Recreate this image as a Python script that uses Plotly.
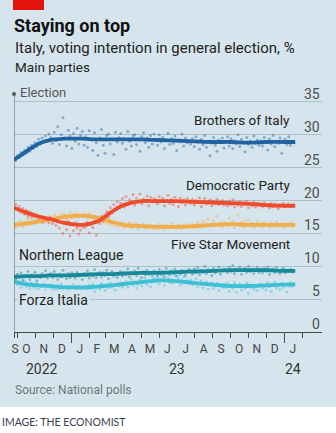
import plotly.graph_objects as go
import pandas as pd

# ---- data -------------------------------------------------------------
# individual polls: one reading every three days from just after the election
poll_dates = pd.date_range("2022-09-28", periods=160, freq="3D")

fdi_polls = [
    26.1, 26.8, 26.5, 27.3, 26.9, 27.6, 27.2, 28.1, 27.5, 28.4, 27.9, 28.8, 28.2, 29.3, 28.6, 29.5, 28.9, 29.8, 29.0, 30.1,
    29.6, 28.7, 30.4, 29.1, 31.2, 28.5, 30.0, 32.6, 29.4, 28.3, 30.7, 29.8, 27.9, 30.2, 29.0, 31.0, 28.6, 29.9, 30.5, 28.4,
    29.7, 28.1, 30.6, 29.2, 27.6, 30.3, 28.8, 26.9, 29.5, 30.8, 28.4, 27.2, 29.9, 30.1, 28.6, 29.3, 27.0, 30.4, 28.9, 29.6,
    30.2, 28.7, 29.4, 27.8, 30.5, 29.0, 28.3, 29.8, 30.0, 28.5, 29.2, 27.5, 29.7, 30.3, 28.8, 29.5, 28.1, 29.9, 28.6, 30.1,
    29.3, 28.4, 30.0, 28.9, 29.6, 27.9, 29.1, 30.2, 28.5, 29.4, 28.7, 29.8, 27.6, 29.2, 28.9, 30.1, 28.3, 29.5, 28.8, 29.0,
    28.6, 29.4, 28.2, 29.7, 28.9, 27.8, 29.3, 28.5, 29.9, 28.1, 29.0, 26.8, 28.7, 29.6, 28.4, 27.5, 29.2, 28.8, 29.5, 28.0,
    28.9, 29.7, 28.3, 29.4, 27.9, 29.1, 28.6, 30.0, 28.2, 29.3, 28.8, 27.4, 29.6, 28.5, 29.0, 28.1, 29.8, 28.7, 29.2, 28.4,
    29.1, 28.3, 29.6, 28.8, 27.7, 29.4, 28.6, 29.9, 28.2, 29.0, 28.7, 29.5, 27.2, 28.9, 29.3, 28.5, 29.7, 28.4, 29.0, 28.8,
]
pd_polls = [
    19.4, 18.6, 19.1, 18.2, 18.8, 17.9, 18.5, 17.6, 18.3, 17.4, 18.0, 16.9, 17.8, 17.1, 17.6, 16.7, 17.5, 16.9, 17.3, 16.6,
    17.4, 16.5, 17.0, 16.2, 16.9, 15.8, 16.7, 15.0, 16.5, 15.6, 16.8, 14.6, 16.3, 15.4, 16.6, 15.8, 14.9, 15.5, 16.2, 15.9,
    16.1, 16.7, 15.1, 16.4, 15.9, 16.8, 14.7, 17.1, 16.5, 17.6, 16.9, 17.8, 18.3, 17.5, 18.9, 18.1, 19.4, 18.6, 19.8, 18.9,
    19.6, 20.3, 19.0, 20.6, 19.4, 20.1, 19.7, 20.9, 19.3, 20.4, 19.8, 21.0, 19.5, 20.2, 19.9, 20.7, 19.2, 20.5, 19.8, 20.3,
    20.1, 19.5, 20.6, 19.8, 20.3, 19.2, 20.0, 20.8, 19.6, 20.2, 19.4, 20.5, 19.9, 19.1, 20.4, 19.7, 20.1, 19.3, 20.3, 19.8,
    19.6, 20.2, 19.3, 20.0, 19.7, 20.4, 19.1, 19.9, 20.3, 19.5, 19.8, 20.1, 19.2, 19.9, 19.6, 20.2, 19.4, 19.7, 20.0, 19.3,
    19.8, 19.2, 19.9, 19.4, 20.1, 19.0, 19.6, 19.3, 19.8, 19.1, 19.7, 19.4, 19.9, 18.9, 19.5, 19.2, 19.8, 19.0, 19.6, 19.3,
    19.5, 19.0, 19.7, 19.2, 19.4, 18.9, 19.6, 19.1, 19.5, 19.3, 18.8, 19.4, 19.2, 19.6, 19.0, 19.3, 19.5, 19.1, 19.4, 19.2,
]
m5s_polls = [
    15.9, 16.6, 16.2, 16.9, 16.0, 16.7, 16.4, 17.1, 16.3, 16.8, 16.5, 17.3, 16.6, 17.0, 16.8, 17.5, 16.7, 17.2, 17.0, 17.6,
    17.3, 16.9, 17.8, 17.2, 17.6, 16.8, 18.0, 17.4, 17.9, 17.1, 17.7, 18.2, 17.3, 17.9, 17.5, 18.1, 17.4, 17.8, 17.6, 18.0,
    17.8, 17.3, 18.0, 17.5, 17.2, 17.7, 17.0, 17.4, 16.8, 17.3, 16.7, 17.1, 16.5, 16.9, 16.4, 16.8, 16.2, 16.6, 16.0, 16.5,
    16.2, 16.7, 15.9, 16.4, 16.0, 16.6, 15.8, 16.3, 16.1, 16.5, 15.7, 16.2, 16.0, 16.4, 15.8, 16.3, 15.9, 16.2, 16.1, 15.7,
    16.1, 15.7, 16.4, 15.9, 16.2, 15.6, 16.3, 16.0, 15.8, 16.5, 15.9, 16.1, 15.7, 16.3, 16.0, 15.8, 16.2, 15.9, 16.4, 16.0,
    16.1, 16.4, 15.8, 16.2, 16.6, 15.9, 16.3, 16.8, 16.0, 16.5, 17.2, 16.1, 16.4, 16.9, 16.2, 17.6, 16.3, 16.7, 16.0, 16.5,
    16.6, 16.1, 17.3, 16.4, 16.8, 15.9, 16.5, 17.8, 16.2, 16.7, 16.0, 16.9, 16.3, 17.1, 16.1, 16.6, 15.9, 16.4, 16.8, 16.2,
    16.5, 16.0, 16.7, 16.2, 16.4, 15.9, 16.6, 16.1, 16.3, 16.8, 16.0, 16.4, 16.2, 15.8, 16.5, 16.1, 16.3, 16.6, 16.0, 16.4,
]
lega_polls = [
    8.1, 8.8, 8.3, 9.0, 7.9, 8.6, 8.4, 9.2, 8.0, 8.7, 8.5, 9.1, 7.8, 8.6, 8.3, 8.9, 8.5, 9.3, 8.2, 8.7,
    8.9, 8.3, 9.2, 8.5, 8.0, 8.8, 8.4, 9.4, 8.6, 8.1, 8.9, 8.3, 9.0, 8.7, 8.2, 9.1, 8.5, 8.8, 8.0, 8.9,
    8.6, 9.3, 8.2, 8.9, 8.5, 9.5, 8.3, 8.8, 9.1, 8.4, 9.0, 8.6, 9.4, 8.1, 8.8, 9.2, 8.5, 8.9, 8.3, 9.0,
    9.2, 8.5, 9.0, 8.7, 9.6, 8.4, 9.1, 8.8, 9.3, 8.6, 9.7, 8.9, 8.3, 9.2, 8.7, 9.4, 8.8, 9.0, 8.5, 9.3,
    9.1, 8.6, 9.5, 8.8, 9.2, 8.4, 9.7, 9.0, 8.7, 9.3, 8.9, 9.6, 8.5, 9.1, 8.8, 9.4, 9.0, 8.6, 9.2, 9.5,
    9.3, 8.8, 9.6, 9.0, 9.8, 8.7, 9.4, 9.1, 10.0, 8.9, 9.5, 9.2, 8.6, 9.7, 9.0, 9.4, 9.9, 8.8, 9.3, 9.6,
    9.4, 9.0, 9.8, 9.2, 10.1, 8.9, 9.6, 9.3, 9.9, 8.8, 9.5, 9.7, 9.1, 10.0, 9.2, 9.6, 8.9, 9.4, 9.8, 9.1,
    9.5, 9.0, 9.7, 9.2, 9.9, 8.8, 9.4, 9.6, 9.1, 9.8, 9.3, 8.9, 9.5, 9.7, 9.0, 9.4, 9.2, 9.6, 9.1, 9.3,
]
fi_polls = [
    7.9, 7.2, 7.6, 6.8, 7.4, 7.8, 6.9, 7.3, 6.6, 7.5, 7.0, 6.7, 7.4, 6.5, 7.1, 6.9, 7.3, 6.4, 7.0, 6.8,
    7.2, 6.5, 6.9, 6.3, 7.1, 6.6, 7.3, 6.2, 6.8, 7.0, 6.4, 6.9, 6.1, 7.2, 6.7, 6.5, 7.0, 6.3, 6.8, 6.6,
    6.9, 6.4, 7.1, 6.6, 7.3, 6.2, 6.8, 7.0, 6.5, 7.4, 6.9, 6.3, 7.2, 6.7, 7.5, 6.8, 7.1, 6.4, 7.3, 7.0,
    7.5, 6.8, 7.2, 7.7, 6.9, 7.4, 8.0, 7.1, 7.6, 6.7, 7.3, 7.9, 7.0, 7.5, 8.2, 7.2, 7.8, 6.9, 7.6, 8.1,
    7.6, 8.3, 7.3, 7.9, 8.5, 7.1, 7.8, 8.2, 7.5, 8.0, 7.4, 8.6, 7.7, 8.1, 7.2, 7.9, 8.4, 7.5, 7.8, 7.3,
    7.9, 7.2, 7.6, 8.1, 6.9, 7.4, 7.8, 6.7, 7.3, 7.6, 6.5, 7.2, 7.5, 6.6, 7.0, 7.4, 6.3, 7.1, 6.8, 7.3,
    6.8, 7.4, 6.2, 7.1, 6.6, 7.5, 6.0, 6.9, 7.3, 6.4, 7.0, 6.7, 7.4, 5.9, 6.8, 7.2, 6.5, 7.0, 6.3, 7.1,
    7.3, 6.6, 7.0, 6.4, 7.5, 6.9, 6.2, 7.2, 7.6, 6.7, 7.1, 6.5, 7.4, 6.8, 7.3, 6.1, 7.0, 7.5, 6.9, 7.2,
]

# smoothed poll averages
trend_dates = [
    "2022-09-25", "2022-10-15", "2022-11-05", "2022-11-25", "2022-12-20", "2023-01-20",
    "2023-02-15", "2023-03-10", "2023-04-01", "2023-05-01", "2023-06-01", "2023-07-01",
    "2023-08-01", "2023-09-01", "2023-10-01", "2023-11-01", "2023-12-01", "2024-01-01", "2024-01-20",
]
fdi_trend = [26.2, 27.4, 28.6, 29.2, 29.4, 29.4, 29.3, 29.3, 29.3, 29.3, 29.2, 29.1, 29.0, 28.9, 28.9, 28.8, 28.9, 28.9, 28.9]
pd_trend = [18.9, 18.2, 17.6, 17.2, 16.6, 16.3, 16.8, 18.2, 19.3, 19.9, 19.9, 19.9, 19.8, 19.7, 19.6, 19.5, 19.3, 19.2, 19.2]
m5s_trend = [16.3, 16.5, 16.8, 17.1, 17.5, 17.7, 17.4, 16.8, 16.3, 16.1, 16.0, 16.0, 16.1, 16.3, 16.4, 16.3, 16.3, 16.3, 16.3]
lega_trend = [8.4, 8.5, 8.5, 8.6, 8.6, 8.7, 8.8, 8.8, 8.9, 9.0, 9.0, 9.1, 9.2, 9.3, 9.4, 9.4, 9.4, 9.3, 9.3]
fi_trend = [7.65, 7.3, 7.1, 7.0, 6.8, 6.8, 6.9, 7.1, 7.3, 7.6, 7.85, 7.75, 7.45, 7.2, 7.0, 7.0, 7.1, 7.2, 7.25]

parties = ["Brothers of Italy", "Democratic Party", "Five Star Movement", "Northern League", "Forza Italia"]

# axis labelling
y_ticks = [0, 5, 10, 15, 20, 25, 30, 35]
month_starts = [
    "2022-09-25", "2022-10-01", "2022-11-01", "2022-12-01", "2023-01-01", "2023-02-01", "2023-03-01",
    "2023-04-01", "2023-05-01", "2023-06-01", "2023-07-01", "2023-08-01", "2023-09-01", "2023-10-01",
    "2023-11-01", "2023-12-01", "2024-01-01", "2024-02-01",
]
year_starts = ["2023-01-01", "2024-01-01"]
month_mids = [
    "2022-09-27", "2022-10-16", "2022-11-15", "2022-12-16", "2023-01-16", "2023-02-14", "2023-03-16",
    "2023-04-15", "2023-05-16", "2023-06-15", "2023-07-16", "2023-08-16", "2023-09-15", "2023-10-16",
    "2023-11-15", "2023-12-16", "2024-01-16",
]
month_letters = ["S", "O", "N", "D", "J", "F", "M", "A", "M", "J", "J", "A", "S", "O", "N", "D", "J"]
year_labels = ["2022", "23", "24"]
year_label_dates = ["2022-11-12", "2023-07-01", "2024-01-16"]

# ---- style -----------------------------------------------------------
W, H = 336, 433
L, R, T, B = 14, 14, 94, 101
PANEL = "#d6e5ed"
FONT = "Roboto, sans-serif"
colors = {
    "Brothers of Italy": "#1f64a0",
    "Democratic Party": "#ee4a2c",
    "Five Star Movement": "#f0ad4c",
    "Northern League": "#17899a",
    "Forza Italia": "#3ebfd6",
}
X_RANGE = ["2022-09-25", "2024-03-06"]
Y_TOP = 36.2


def px_x(x):
    return (x - L) / (W - L - R)


def px_y(y):
    return (H - B - y) / (H - B - T)


polls = dict(zip(parties, [fdi_polls, pd_polls, m5s_polls, lega_polls, fi_polls]))
trends = dict(zip(parties, [fdi_trend, pd_trend, m5s_trend, lega_trend, fi_trend]))

fig = go.Figure()

for name in ["Forza Italia", "Northern League", "Five Star Movement", "Democratic Party", "Brothers of Italy"]:
    fig.add_trace(go.Scatter(
        x=poll_dates, y=polls[name], mode="markers",
        marker=dict(size=3, color=colors[name], opacity=0.45, line=dict(width=0)),
        hoverinfo="skip", showlegend=False,
    ))

for name in ["Five Star Movement", "Democratic Party", "Forza Italia", "Northern League", "Brothers of Italy"]:
    fig.add_trace(go.Scatter(
        x=trend_dates, y=trends[name], mode="lines",
        line=dict(color=colors[name], width=3.8, shape="spline", smoothing=1.0),
        name=name, showlegend=False,
    ))

# election marker dot at the top of the start line
fig.add_trace(go.Scatter(
    x=[X_RANGE[0]], y=[Y_TOP], mode="markers", cliponaxis=False,
    marker=dict(size=4, color="#5a5a5a"), hoverinfo="skip", showlegend=False,
))
# carriers for the overlay axes
for ax in ["x2", "x3"]:
    fig.add_trace(go.Scatter(
        x=[X_RANGE[0]], y=[0], xaxis=ax, mode="markers",
        marker=dict(opacity=0), hoverinfo="skip", showlegend=False,
    ))

shapes = [
    dict(type="rect", xref="paper", yref="paper", x0=px_x(0), x1=px_x(W), y0=px_y(407), y1=px_y(0),
         fillcolor=PANEL, line=dict(width=0), layer="below"),
    dict(type="rect", xref="paper", yref="paper", x0=px_x(13), x1=px_x(44), y0=px_y(10), y1=px_y(0),
         fillcolor="#e3120b", line=dict(width=0), layer="below"),
    dict(type="line", xref="x", yref="y", x0=X_RANGE[0], x1=X_RANGE[0], y0=0, y1=Y_TOP,
         line=dict(color="#5a5a5a", width=1)),
]

annotations = [
    dict(text="<b>Staying on top</b>", x=px_x(12), y=px_y(25.5), font=dict(size=18, color="#111111")),
    dict(text="Italy, voting intention in general election, %", x=px_x(13), y=px_y(48), font=dict(size=15, color="#222222")),
    dict(text="Main parties", x=px_x(13), y=px_y(66.5), font=dict(size=13.5, color="#222222")),
    dict(text="Election", x=px_x(18), y=px_y(92.5), font=dict(size=13, color="#555555")),
    dict(text="Source: National polls", x=px_x(13), y=px_y(390), font=dict(size=12, color="#6f767a")),
    dict(text="IMAGE: THE ECONOMIST", x=px_x(0), y=px_y(422), font=dict(size=10.5, color="#3c3c50", family="Lato")),
    dict(text="Northern League", x=px_x(17), y=px_y(255), font=dict(size=14, color="#222222")),
    dict(text="Forza Italia", x=px_x(17), y=px_y(300), font=dict(size=14, color="#222222"), bgcolor=PANEL),
]
for a in annotations:
    a.update(xref="paper", yref="paper", xanchor="left", yanchor="middle", showarrow=False)

for text, yy in [("Brothers of Italy", 120), ("Democratic Party", 185), ("Five Star Movement", 244)]:
    annotations.append(dict(text=text, xref="paper", yref="paper", x=px_x(292), y=px_y(yy),
                            xanchor="right", yanchor="middle", showarrow=False,
                            font=dict(size=13.5, color="#222222")))

# value labels sit just above their gridlines at the right edge
for v in y_ticks:
    annotations.append(dict(text=str(v), xref="paper", yref="y", x=1, y=v, yshift=8,
                            xanchor="right", yanchor="middle", showarrow=False,
                            font=dict(size=14, color="#4d4d4d")))

for lab, d in zip(year_labels, year_label_dates):
    annotations.append(dict(text=lab, xref="x", yref="paper", x=d, y=px_y(369),
                            xanchor="center", yanchor="middle", showarrow=False,
                            font=dict(size=14, color="#333333")))

fig.update_layout(
    width=W, height=H, autosize=False,
    margin=dict(l=L, r=R, t=T, b=B, pad=0),
    paper_bgcolor="white", plot_bgcolor="rgba(0,0,0,0)",
    font=dict(family=FONT, color="#222222"),
    shapes=shapes, annotations=annotations, showlegend=False,
    xaxis=dict(
        type="date", range=X_RANGE, showgrid=False, zeroline=False,
        showline=True, linecolor="#4a4a4a", linewidth=1,
        tickmode="array", tickvals=month_starts, ticks="outside", ticklen=5,
        tickcolor="#4a4a4a", tickwidth=1, showticklabels=False, fixedrange=True,
    ),
    xaxis2=dict(
        type="date", range=X_RANGE, overlaying="x", anchor="y", showgrid=False, zeroline=False,
        showline=False, tickmode="array", tickvals=year_starts, ticks="outside", ticklen=10,
        tickcolor="#4a4a4a", tickwidth=1, showticklabels=False, fixedrange=True,
    ),
    xaxis3=dict(
        type="date", range=X_RANGE, overlaying="x", anchor="y", showgrid=False, zeroline=False,
        showline=False, tickmode="array", tickvals=month_mids, ticktext=month_letters, ticks="",
        ticklabelstandoff=8, tickfont=dict(size=12, color="#444444"), fixedrange=True,
    ),
    yaxis=dict(
        range=[0, Y_TOP], side="right", tickmode="array", tickvals=y_ticks,
        showticklabels=False, ticks="", showgrid=True, gridcolor="#afbfc8", gridwidth=1,
        zeroline=False, showline=False, fixedrange=True,
    ),
)

fig.write_html("out.html")
